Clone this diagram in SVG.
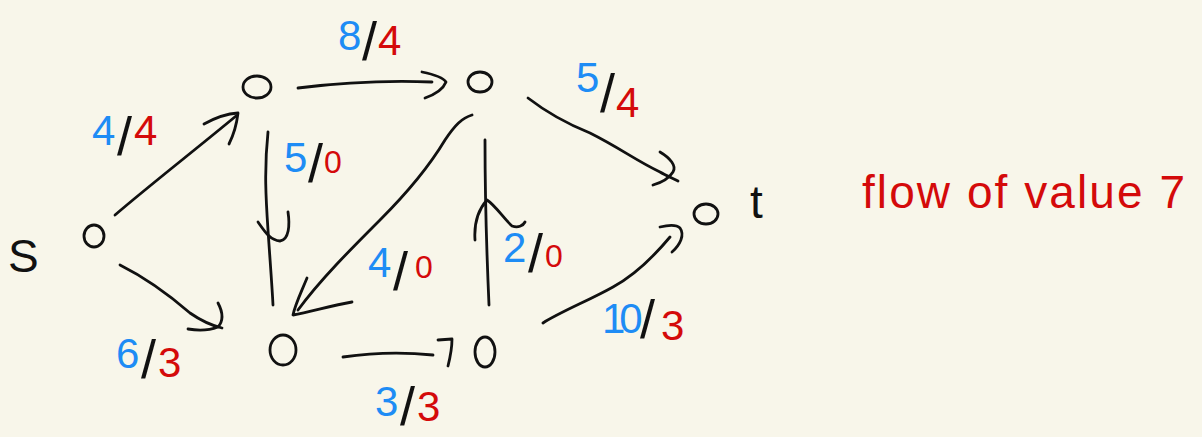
<svg xmlns="http://www.w3.org/2000/svg" width="1202" height="437" viewBox="0 0 1202 437">
<style>
.bg{fill:#f8f6ea}
.node{fill:none;stroke:#111;stroke-width:2.8}
.ink{fill:none;stroke:#111;stroke-width:2.8;stroke-linecap:round;stroke-linejoin:round}
text{font-family:"Liberation Sans",Arial,sans-serif}
.lbl{font-size:42px}
.b{fill:#1e8cf5}
.r{fill:#d40a0a}
.k{fill:#111;font-size:54px}
.z{font-size:32px}
.name{fill:#111;font-size:46px}
.note{fill:#d40a0a;font-size:46px}
</style>
<rect class="bg" x="0" y="0" width="1202" height="437"/>

<g id="connectors">
  <g id="e-s-a">
    <path class="ink" d="M115,215 C150,185 195,150 236,116"/>
    <path class="ink" d="M204,124 Q222,114 238,113 Q236,130 229,144"/>
  </g>
  <g id="e-s-c">
    <path class="ink" d="M120,265 C150,280 175,300 190,313 C200,320 210,325 222,328"/>
    <path class="ink" d="M218,303 Q226,318 218,327 Q205,332 188,329"/>
  </g>
  <g id="e-a-b">
    <path class="ink" d="M298,88 C330,84 380,80 432,82"/>
    <path class="ink" d="M422,72 Q442,76 446,82 Q442,92 425,98"/>
  </g>
  <g id="e-a-c">
    <path class="ink" d="M268,132 C264,170 266,200 268,230 C270,260 272,285 273,305"/>
    <path class="ink" d="M258,222 C265,232 270,240 280,241 C289,240 290,225 288,212"/>
  </g>
  <g id="e-b-c">
    <path class="ink" d="M472,115 C462,118 455,125 445,140 C430,165 410,190 380,220 C350,250 320,280 298,310"/>
    <path class="ink" d="M307,278 C300,295 295,305 293,315 C310,312 330,306 352,302"/>
  </g>
  <g id="e-b-t">
    <path class="ink" d="M528,98 C550,115 570,125 590,133 C620,148 635,160 660,172 C665,175 672,178 678,181"/>
    <path class="ink" d="M660,152 C670,158 677,166 673,172 C668,180 660,183 653,185"/>
  </g>
  <g id="e-d-b">
    <path class="ink" d="M489,305 C487,260 485,200 485,140"/>
    <path class="ink" d="M475,240 C474,225 478,210 487,200 C495,205 505,220 512,226 C518,228 523,226 525,222"/>
  </g>
  <g id="e-c-d">
    <path class="ink" d="M343,357 C370,353 405,352 433,355"/>
    <path class="ink" d="M438,340 L452,339 C452,350 450,358 448,366"/>
  </g>
  <g id="e-d-t">
    <path class="ink" d="M543,323 C560,312 590,300 613,287 C635,275 655,255 670,237"/>
    <path class="ink" d="M660,227 C668,225 676,224 680,228 C685,235 680,245 672,252"/>
  </g>
</g>

<g id="labels">
  <text class="lbl"><tspan class="b" x="92" y="145">4</tspan><tspan class="k" x="117" y="155">/</tspan><tspan class="r" x="134" y="145">4</tspan></text>
  <text class="lbl"><tspan class="b" x="338" y="50">8</tspan><tspan class="k" x="362" y="60">/</tspan><tspan class="r" x="378" y="55">4</tspan></text>
  <text class="lbl"><tspan class="b" x="284" y="172">5</tspan><tspan class="k" x="308" y="182">/</tspan><tspan class="r z" x="324" y="173">0</tspan></text>
  <text class="lbl"><tspan class="b" x="116" y="368">6</tspan><tspan class="k" x="141" y="378">/</tspan><tspan class="r" x="158" y="377">3</tspan></text>
  <text class="lbl"><tspan class="b" x="368" y="277">4</tspan><tspan class="k" x="393" y="290">/</tspan><tspan class="r z" x="415" y="278">0</tspan></text>
  <text class="lbl"><tspan class="b" x="503" y="262">2</tspan><tspan class="k" x="528" y="272">/</tspan><tspan class="r z" x="545" y="267">0</tspan></text>
  <text class="lbl"><tspan class="b" x="576" y="92">5</tspan><tspan class="k" x="600" y="112">/</tspan><tspan class="r" x="616" y="117">4</tspan></text>
  <text class="lbl"><tspan class="b" x="602" y="333" letter-spacing="-6">10</tspan><tspan class="k" x="640" y="338">/</tspan><tspan class="r" x="661" y="340">3</tspan></text>
  <text class="lbl"><tspan class="b" x="375" y="416">3</tspan><tspan class="k" x="400" y="425">/</tspan><tspan class="r" x="417" y="421">3</tspan></text>
</g>

<g id="node-s">
  <ellipse class="node" cx="94" cy="236" rx="10" ry="11"/>
  <text class="name" x="8" y="272">S</text>
</g>
<g id="node-a">
  <ellipse class="node" cx="257" cy="87" rx="14" ry="11"/>
</g>
<g id="node-b">
  <ellipse class="node" cx="480" cy="82" rx="12" ry="10"/>
</g>
<g id="node-c">
  <ellipse class="node" cx="283" cy="350" rx="13" ry="15"/>
</g>
<g id="node-d">
  <ellipse class="node" cx="485" cy="352" rx="10" ry="15"/>
</g>
<g id="node-t">
  <ellipse class="node" cx="706" cy="214" rx="12" ry="10"/>
  <text class="name" x="750" y="218">t</text>
</g>

<g id="note">
  <text class="note" x="862" y="208" textLength="323" lengthAdjust="spacing">flow of value 7</text>
</g>
</svg>
